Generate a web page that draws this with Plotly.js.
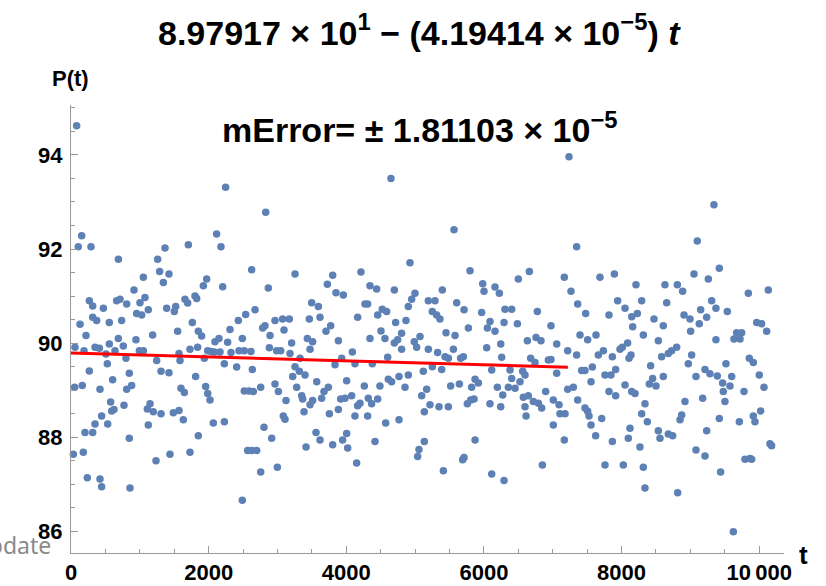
<!DOCTYPE html>
<html>
<head>
<meta charset="utf-8">
<script src="https://cdn.plot.ly/plotly-3.0.1.min.js"></script>
<style>html,body{margin:0;padding:0;background:#fff;}#chart{width:826px;height:586px;}</style>
</head>
<body>
<div id="chart"></div>
<script>
// Observed points [t, P(t)], grouped by t range
const pointsA = [[82,94.62],[155,92.28],[106,92.05],[290,92.05],[688,91.78],[1051,91.40],[266,90.90],[315,90.79],[470,90.74],[663,90.90],[712,90.93],[809,90.83],[915,91.13],[1075,90.97],[1002,90.86],[954,90.63],[1027,90.60],[1123,90.71],[131,90.40],[315,90.55],[373,90.48],[557,90.44],[736,90.48],[1186,90.17],[218,90.16],[688,90.10],[557,89.98],[760,89.94],[944,90.07],[58,89.91],[189,89.84],[349,89.91],[412,89.89],[508,89.77],[639,89.84],[799,89.68],[993,89.84],[1051,89.84],[266,89.41],[528,89.56],[847,89.36],[53,89.06],[164,89.10],[421,89.02],[605,89.22],[809,89.02],[881,89.10],[576,88.75],[770,88.68],[1148,88.71],[1109,88.60],[1196,88.54],[591,88.56],[625,88.59],[445,88.45],[349,88.28],[533,88.28],[1123,88.26],[203,88.10],[315,88.10],[847,87.98],[34,87.64],[179,87.68],[1235,87.50],[237,87.14],[421,87.11],[445,86.95],[857,86.92]];
const pointsB = [[2247,93.31],[2116,92.32],[2179,92.05],[1705,92.09],[1366,92.02],[1259,91.78],[1288,91.52],[1424,91.47],[1342,91.29],[2625,91.56],[1971,91.36],[1923,91.22],[2204,91.20],[1802,91.00],[1656,90.93],[1695,90.85],[1826,90.95],[1390,90.74],[1521,90.78],[1501,90.67],[2538,90.61],[2431,90.48],[1763,90.44],[1550,90.25],[1850,90.25],[1898,90.15],[2310,90.29],[2150,90.10],[2092,90.03],[2276,90.02],[2489,90.10],[1729,89.87],[1840,89.91],[1986,89.84],[2034,89.82],[2082,89.81],[2165,89.81],[2325,89.80],[2441,89.84],[2518,89.84],[2615,89.82],[1569,89.78],[1584,89.63],[1937,89.68],[1245,89.63],[2228,89.56],[2407,89.49],[2635,89.44],[1308,89.40],[1424,89.37],[1811,89.29],[1598,89.04],[1647,88.95],[1957,89.08],[1986,88.93],[2020,88.79],[2518,88.98],[2586,88.98],[1308,88.50],[1487,88.52],[1569,88.57],[1632,88.37],[2068,88.30],[2228,88.33],[1850,88.03],[1438,87.64],[1729,87.68],[2567,87.72],[2625,87.72],[2489,86.66]];
const pointsC = [[2829,92.78],[3255,91.47],[3802,91.44],[3725,91.25],[2867,91.17],[3850,91.07],[3957,91.02],[2674,90.71],[3497,90.86],[3594,90.78],[3618,90.55],[3463,90.51],[2964,90.48],[3075,90.51],[3172,90.51],[2819,90.37],[2785,90.32],[3095,90.28],[3773,90.37],[3705,90.25],[2892,90.16],[3434,90.10],[3511,90.03],[3206,90.00],[3885,90.05],[2882,89.90],[2988,89.84],[3047,89.84],[3182,89.78],[3473,89.87],[3328,89.68],[3255,89.50],[3933,89.68],[3836,89.54],[3318,89.40],[3400,89.32],[3221,89.29],[4005,89.20],[3570,89.18],[2756,89.06],[2649,88.97],[2964,89.13],[3013,88.97],[3279,89.06],[3739,89.06],[3676,88.97],[3352,88.88],[3366,88.81],[3124,88.78],[3511,88.78],[3473,88.69],[3642,88.83],[3918,88.81],[3981,88.83],[3885,88.59],[3386,88.54],[3754,88.50],[3085,88.45],[3110,88.38],[2804,88.21],[3560,88.10],[4005,88.08],[2916,87.98],[3618,87.94],[3947,87.94],[3802,87.84],[3415,87.79],[4020,87.77],[2698,87.72],[2998,87.36],[2756,87.26]];
const pointsD = [[4649,93.50],[4925,91.71],[4213,91.51],[4344,91.22],[4441,91.15],[4698,91.13],[4998,91.06],[4950,90.93],[5395,91.13],[5192,90.90],[5289,90.90],[4901,90.78],[4272,90.83],[4310,90.83],[4523,90.72],[4586,90.67],[4456,90.60],[4165,90.55],[5250,90.67],[5313,90.60],[5361,90.51],[4717,90.44],[4867,90.48],[4504,90.26],[4562,90.10],[4344,90.10],[4804,90.21],[4746,90.07],[4698,90.00],[4804,89.87],[4988,90.03],[5071,90.14],[5022,89.91],[5192,89.87],[5327,89.80],[4088,89.81],[4601,89.70],[4126,89.56],[4378,89.56],[5250,89.50],[5119,89.40],[4611,89.23],[4659,89.18],[4766,89.29],[4901,89.32],[4262,89.09],[4489,89.09],[4853,89.06],[5168,89.02],[4078,88.88],[4199,88.72],[4165,88.67],[4320,88.83],[4368,88.71],[4456,88.81],[5095,88.88],[5216,88.69],[5347,88.65],[5134,88.54],[4126,88.45],[4310,88.45],[4572,88.30],[4766,88.37],[4417,87.91],[5134,87.91],[5056,87.74],[5037,87.59],[4150,87.45],[5410,87.29]];
const pointsE = [[5565,92.41],[5798,91.54],[6660,91.52],[6500,91.36],[5982,91.26],[6001,91.10],[6161,91.19],[6224,91.06],[5604,90.86],[5711,90.71],[5967,90.65],[6306,90.72],[6403,90.72],[6776,90.67],[6088,90.46],[6292,90.44],[6486,90.41],[5774,90.32],[6050,90.32],[6161,90.25],[5449,90.22],[5580,90.16],[6631,90.05],[6757,90.12],[5556,89.87],[6040,89.90],[6244,89.98],[5701,89.71],[5435,89.71],[5483,89.68],[5662,89.68],[6258,89.70],[6679,89.68],[6742,89.59],[5386,89.44],[6113,89.43],[6379,89.43],[6563,89.40],[6597,89.32],[5871,89.23],[5919,89.15],[6403,89.25],[6524,89.18],[5517,89.09],[5643,89.13],[5822,89.06],[6195,89.06],[6355,89.06],[6452,89.04],[6273,88.90],[6573,88.85],[6645,88.88],[5808,88.79],[5856,88.81],[5759,88.71],[6088,88.71],[6244,88.65],[6718,88.76],[6791,88.72],[5483,88.65],[6597,88.65],[6612,88.45],[5871,87.94],[5711,87.57],[5691,87.52],[6113,87.22],[6292,87.08]];
const pointsF = [[7236,93.96],[7347,92.05],[7168,91.40],[7686,91.40],[7895,91.47],[7265,91.10],[7362,90.83],[7478,90.63],[7943,90.90],[8050,90.74],[7817,90.60],[8147,90.56],[6974,90.37],[7396,90.17],[7507,90.07],[7628,90.17],[6829,90.05],[7057,89.98],[7217,89.84],[7347,89.75],[7662,89.75],[7735,89.84],[7866,89.71],[7977,89.87],[8011,89.91],[8088,90.00],[8108,89.68],[8137,89.75],[6936,89.64],[6974,89.65],[7420,89.42],[7468,89.42],[7575,89.49],[7057,89.36],[7759,89.32],[7846,89.32],[7914,89.44],[7556,89.18],[7217,89.02],[7299,89.06],[6897,88.97],[7817,88.97],[7914,88.88],[8050,89.11],[8147,88.97],[7362,88.79],[7008,88.79],[6839,88.62],[7091,88.69],[7468,88.62],[7507,88.55],[7527,88.45],[7105,88.50],[7178,88.50],[7711,88.40],[7008,88.26],[7556,88.26],[7623,88.03],[7168,87.94],[7866,87.91],[8098,87.98],[6849,87.41],[7759,87.41],[8025,87.41]];
const pointsG = [[9342,92.94],[9100,92.17],[9052,91.47],[9420,91.59],[9260,91.36],[8209,91.24],[8630,91.24],[8810,91.24],[8887,91.10],[8292,90.90],[8655,90.86],[9309,90.90],[9371,90.74],[9536,90.67],[9149,90.71],[8229,90.63],[8907,90.60],[8994,90.51],[9236,90.55],[8471,90.51],[8606,90.37],[8161,90.35],[9129,90.41],[9003,90.25],[8316,90.17],[8534,90.05],[9371,90.07],[8800,89.91],[8727,89.84],[8679,89.78],[8582,89.71],[9018,89.75],[8970,89.56],[9517,89.56],[8422,89.52],[9212,89.44],[9284,89.35],[9391,89.30],[9081,89.29],[8606,89.29],[8451,89.25],[8403,89.13],[8500,89.09],[8195,88.93],[9468,89.15],[9478,88.97],[9502,88.76],[8921,88.76],[9178,88.83],[8340,88.71],[8292,88.50],[8374,88.33],[8873,88.47],[8849,88.37],[9420,88.40],[8534,88.14],[8558,87.98],[8679,88.07],[8742,88.03],[9236,88.14],[8122,88.19],[8267,87.79],[9081,87.73],[9212,87.60],[8316,87.36],[9439,87.26],[8340,86.92],[8815,86.82]];
const pointsH = [[10132,91.13],[9842,91.06],[9963,90.44],[10035,90.41],[10108,90.25],[9672,90.22],[9745,90.22],[9633,90.09],[9721,90.09],[9856,89.68],[9914,89.59],[10001,89.32],[9600,89.29],[9575,89.09],[10069,89.06],[9779,88.97],[10021,88.56],[9914,88.45],[9938,88.33],[9711,88.33],[10156,87.86],[10180,87.82],[9793,87.53],[9866,87.55],[9890,87.53],[9624,85.99]];

// Fit (from title): P = a + b t, drawn over this t span
const fitIntercept = 89.7917;
const fitSlope = -4.19414e-5;
const fitSpan = [0, 7220];

const xTickVals = [0, 2000, 4000, 6000, 8000, 10000];
const xTickText = ['0', '2000', '4000', '6000', '8000', '10\u2009000'];
const yTickVals = [86, 88, 90, 92, 94];
const yTickText = ['86', '88', '90', '92', '94'];

const allPts = [].concat(pointsA, pointsB, pointsC, pointsD, pointsE, pointsF, pointsG, pointsH);
const tVals = allPts.map(d => d[0]);
const pVals = allPts.map(d => d[1]);

const axisGray = '#9a9a9a';
const tickFont = {family: 'Liberation Sans, Arial, sans-serif', size: 22, color: '#000', weight: 'bold'};

const data = [
  {type: 'scatter', mode: 'markers', x: tVals, y: pVals,
   marker: {color: '#5E81B5', size: 7.5, line: {width: 0}}, cliponaxis: false, hoverinfo: 'x+y'},
  {type: 'scatter', mode: 'lines', x: fitSpan, y: fitSpan.map(t => fitIntercept + fitSlope * t),
   line: {color: '#FF0000', width: 3}, cliponaxis: false}
];

const layout = {
  width: 826, height: 586,
  margin: {l: 71, r: 42, t: 105, b: 33},
  paper_bgcolor: '#fff', plot_bgcolor: '#fff',
  showlegend: false,
  title: {
    text: '<b>8.97917 × 10<sup>1</sup> − (4.19414 × 10<sup>−5</sup>) <i>t</i></b>',
    font: {family: 'Liberation Sans, Arial, sans-serif', size: 34, color: '#000'},
    x: 0.507, xanchor: 'center', xref: 'container',
    y: 0.944, yanchor: 'middle', yref: 'container'
  },
  xaxis: {
    range: [0, 10360], showgrid: false, zeroline: false,
    showline: true, linecolor: axisGray, linewidth: 1,
    ticks: 'inside', ticklen: 7, tickcolor: axisGray, tickwidth: 1,
    tickmode: 'array', tickvals: xTickVals, ticktext: xTickText,
    tickfont: tickFont, ticklabelstandoff: 0,
    minor: {tickmode: 'linear', tick0: 0, dtick: 500, ticks: 'inside', ticklen: 4, tickcolor: axisGray, tickwidth: 1, showgrid: false}
  },
  yaxis: {
    range: [85.54, 95.06], showgrid: false, zeroline: false,
    showline: true, linecolor: axisGray, linewidth: 1,
    ticks: 'inside', ticklen: 7, tickcolor: axisGray, tickwidth: 1,
    tickmode: 'array', tickvals: yTickVals, ticktext: yTickText,
    tickfont: tickFont, ticklabelstandoff: 3,
    minor: {tickmode: 'linear', tick0: 0, dtick: 0.5, ticks: 'inside', ticklen: 4, tickcolor: axisGray, tickwidth: 1, showgrid: false}
  },
  annotations: [
    {text: '<b>mError= ± 1.81103 × 10<sup>−5</sup></b>', xref: 'paper', yref: 'paper',
     x: 0.4895, y: 0.949, xanchor: 'center', yanchor: 'middle', showarrow: false,
     font: {family: 'Liberation Sans, Arial, sans-serif', size: 34, color: '#000'}},
    {text: '<b>P(t)</b>', xref: 'paper', yref: 'paper', x: -0.0014, y: 1.060,
     xanchor: 'center', yanchor: 'middle', showarrow: false,
     font: {family: 'Liberation Sans, Arial, sans-serif', size: 22, color: '#000'}},
    {text: '<b>t</b>', xref: 'paper', yref: 'paper', x: 1.027, y: -0.004,
     xanchor: 'center', yanchor: 'middle', showarrow: false,
     font: {family: 'Liberation Sans, Arial, sans-serif', size: 26, color: '#000'}},
    {text: 'Update', xref: 'paper', yref: 'paper', x: -0.142, y: 0.018,
     xanchor: 'left', yanchor: 'middle', showarrow: false,
     font: {family: 'Noto Sans, sans-serif', size: 23, color: '#8a8a8a'}}
  ]
};

Plotly.newPlot('chart', data, layout, {displayModeBar: false, staticPlot: true});
</script>
</body>
</html>
